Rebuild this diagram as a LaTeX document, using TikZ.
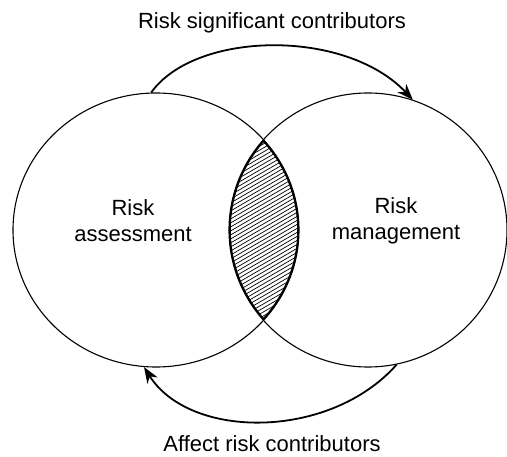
\documentclass[tikz,border=0pt]{standalone}
\usepackage{fontspec}
\setmainfont{Liberation Sans}
\usetikzlibrary{shapes.geometric,arrows.meta}
\begin{document}
\begin{tikzpicture}[x=1pt,y=-1pt,
  circ/.style={ellipse, draw, line width=1.1pt, inner sep=0pt, minimum height=274pt},
  lbl/.style={font=\fontsize{22}{26}\selectfont, align=center, inner sep=0pt},
  flow/.style={line width=1.8pt, -{Stealth[length=16pt,width=12pt,inset=5pt]}},
  hatch/.style={line width=0.7pt}]
\useasboundingbox (0,0) rectangle (507,457);
% hatched overlap
\begin{scope}
  \clip (156,230) ellipse [x radius=143, y radius=137];
  \clip (368,230) ellipse [x radius=139, y radius=137];
  \foreach \c in {100,104,...,440} \draw[hatch] (215,\c) -- (315,\c-58);
  \draw[line width=3.6pt] (156,230) ellipse [x radius=143, y radius=137];
  \draw[line width=3.6pt] (368,230) ellipse [x radius=139, y radius=137];
\end{scope}
\node[circ, minimum width=286pt] (L) at (156,230) {};
\node[circ, minimum width=278pt] (R) at (368,230) {};
\node[lbl] (Lt) at (133,221) {Risk\\assessment};
\node[lbl] (Rt) at (396,221) {Risk\\management};
\node[lbl, anchor=base] (top) at (272,29) {Risk significant contributors};
\node[lbl, anchor=base] (bot) at (272,452) {Affect risk contributors};
\draw[flow] (L.92.5) .. controls (195,31) and (345,28) .. (R.71.3);
\draw[flow] (R.-78) .. controls (330,440) and (190,440) .. (L.-95.4);
\end{tikzpicture}
\end{document}
